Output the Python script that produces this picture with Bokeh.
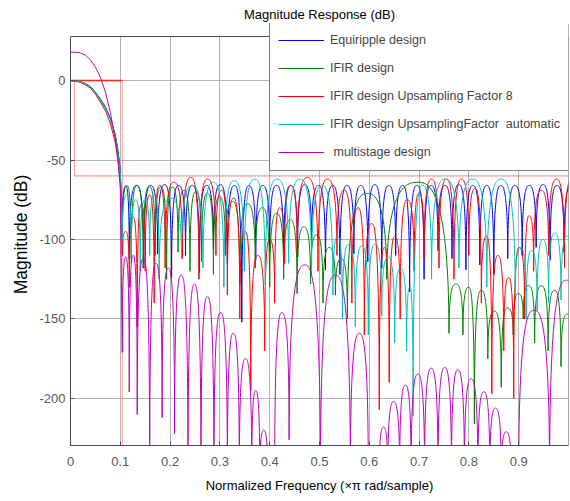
import numpy as np
from bokeh.plotting import figure
from bokeh.models import (Range1d, FixedTicker, Legend, LegendItem, ColumnDataSource,
                          BoxAnnotation, Span)
from bokeh.embed import file_html
from bokeh.resources import INLINE

FONT = "Liberation Sans"

# ---------------- data ----------------
x_ticks = [0, 0.1, 0.2, 0.3, 0.4, 0.5, 0.6, 0.7, 0.8, 0.9]
y_ticks = [-200, -150, -100, -50, 0]
y_tick_text = {-200: "-200", -150: "-150", -100: "-100", -50: "-50", 0: "0"}
x_lim = (0.0, 1.0)
y_lim = (-229.6, 27.7)      # axes box limits
y_view_top = 35.9           # the legend box rises above the axes box

labels = ["Equiripple design", "IFIR design", "IFIR design Upsampling Factor 8",
          "IFIR design UpsamplingFactor  automatic", " multistage design"]
colors = ["#0000ff", "#008000", "#ff0000", "#00bfbf", "#bf00bf"]

# passband (frequency x pi rad/sample, dB)
pass_f = [0, 0.01, 0.02, 0.03, 0.04, 0.05, 0.06, 0.07, 0.08, 0.09, 0.095, 0.1]
blue_pass_db = [0, -0.2, -0.8, -2.0, -4.0, -7.5, -12.0, -17.0, -24.0, -35.0, -44.0, -57.0]
green_pass_db = [0, -0.2, -0.7, -1.9, -3.8, -7.2, -11.6, -16.5, -23.5, -34.0, -43.0, -56.0]
red_pass_db = [0, -0.4, -1.2, -2.6, -4.8, -8.5, -13.5, -19.0, -27.0, -39.0, -50.0, -64.0]
cyan_pass_db = [0, -0.2, -0.8, -2.0, -4.1, -7.6, -12.2, -17.4, -24.5, -35.5, -45.0, -58.0]
mag_pass_db = [17.8, 17.8, 17.4, 16.0, 13.0, 8.5, 2.0, -7.0, -20.0, -37.0, -48.0, -68.0]

# stopband: null frequencies, null depths, lobe peaks between consecutive nulls
blue_null_f = [0.104, 0.118, 0.147, 0.175, 0.203, 0.231, 0.259, 0.287, 0.315, 0.344, 0.372, 0.400,
               0.428, 0.456, 0.484, 0.512, 0.541, 0.569, 0.597, 0.625, 0.653, 0.681, 0.710, 0.738,
               0.766, 0.794, 0.822, 0.850, 0.878, 0.907, 0.935, 0.963, 0.991, 1.019]
blue_null_db = [-95, -112, -118, -109, -124, -110, -121, -106, -115, -152, -113, -108,
                -116, -111, -104, -119, -122, -109, -114, -118, -110, -133, -125, -107,
                -112, -119, -116, -122, -112, -110, -105, -113, -108, -115]
blue_peak_db = [-66.5, -66, -66, -65.5, -66, -66, -66, -65.5, -66, -66, -66, -66,
                -66, -65.5, -66, -66, -66, -66, -65.5, -66, -66, -66, -66, -66,
                -65.5, -66, -66, -66, -66, -66, -65.5, -66, -66]

green_null_f = [0.104, 0.122, 0.146, 0.170, 0.193, 0.216, 0.240, 0.263, 0.287, 0.311, 0.340,
                0.371, 0.400, 0.428, 0.455, 0.482, 0.507, 0.532, 0.556, 0.635, 0.760, 0.788,
                0.811, 0.838, 0.865, 0.889, 0.909, 0.932, 0.959, 0.985, 1.010]
green_null_db = [-100, -112, -118, -110, -125, -108, -120, -114, -122, -110, -128,
                 -118, -130, -125, -134, -128, -140, -135, -150, -125, -159, -160,
                 -216, -175, -193, -160, -150, -165, -170, -180, -160]
green_peak_db = [-66, -66, -66.5, -67, -67, -69, -70, -71, -73, -76, -77.5, -80, -83.5, -87.5,
                 -92, -97, -105, -112, -71, -64, -128, -130, -132, -145, -143, -134, -129,
                 -129, -132, -147]

red_null_f = [0.104, 0.118, 0.134, 0.150, 0.168, 0.190, 0.225, 0.258, 0.292, 0.315, 0.340,
              0.362, 0.390, 0.410, 0.430, 0.455, 0.497, 0.535, 0.565, 0.590, 0.620, 0.640,
              0.662, 0.690, 0.710, 0.740, 0.770, 0.800, 0.825, 0.846, 0.870, 0.890, 0.912,
              0.930, 0.960, 0.992, 1.020]
red_null_db = [-110, -130, -155, -120, -140, -118, -112, -125, -110, -135, -150,
               -195, -170, -140, -115, -108, -120, -110, -140, -160, -207, -190,
               -150, -120, -112, -118, -125, -110, -140, -197, -170, -200, -150,
               -120, -110, -118, -112]
red_peak_db = [-95, -86, -78, -72, -66, -64, -61, -62, -69, -74, -95, -110, -100, -80, -66,
               -61, -62, -69, -80, -90, -105, -98, -75, -71, -62, -62, -62, -68, -98, -110,
               -124, -105, -85, -69, -62, -62]

cyan_null_f = [0.104, 0.122, 0.140, 0.159, 0.178, 0.223, 0.266, 0.308, 0.349, 0.391, 0.438,
               0.484, 0.527, 0.546, 0.572, 0.598, 0.625, 0.651, 0.675, 0.688, 0.725, 0.780,
               0.836, 0.893, 0.915, 0.937, 0.960, 0.985, 1.010]
cyan_null_db = [-100, -115, -120, -110, -125, -112, -118, -130, -120, -128, -115,
                -122, -135, -150, -155, -160, -148, -165, -170, -211, -125, -118,
                -130, -135, -150, -145, -140, -138, -130]
cyan_peak_db = [-72, -75, -75, -72, -74, -66, -64, -63, -62, -62, -62, -66, -98, -103, -104,
                -103, -111, -118, -130, -66, -62, -62, -62, -105, -107, -100, -96, -98]

mag_null_f = [0.104, 0.118, 0.134, 0.159, 0.184, 0.209, 0.236, 0.262, 0.288, 0.315, 0.339,
              0.364, 0.380, 0.396, 0.410, 0.439, 0.502, 0.562, 0.598, 0.620, 0.637, 0.661,
              0.684, 0.711, 0.738, 0.765, 0.791, 0.818, 0.842, 0.865, 0.885, 0.900, 0.962, 1.030]
mag_null_db = [-171, -196, -210, -250, -212, -222, -250, -250, -250, -250, -250,
               -250, -250, -250, -250, -226, -250, -250, -250, -250, -250, -250,
               -250, -250, -250, -250, -250, -250, -250, -250, -250, -250, -250, -250]
mag_peak_db = [-111, -110, -112, -115, -118, -122.5, -128, -136, -146, -159, -175, -195, -220,
               -240, -146, -116, -122.5, -159, -240, -218, -202, -191.6, -184.7, -181, -180.5,
               -182, -187.6, -195.8, -206, -221, -240, -144.5, -125.6]

# specification mask
mask_pass_f = [0, 0.104]
mask_pass_db = [0, 0]
mask_edge_f = [0.104, 0.104]
mask_edge_db = [0, -230]
mask_inner_f = [0.008, 0.008]
mask_inner_db = [0, -60]
mask_stop_f = [0.008, 1.0]
mask_stop_db = [-60, -60]

# ---------------- figure ----------------
p = figure(width=570, height=501, output_backend="svg", toolbar_location=None,
           x_range=Range1d(*x_lim), y_range=Range1d(y_lim[0], y_view_top),
           min_border_left=70, min_border_right=2, min_border_top=23, min_border_bottom=56,
           title="Magnitude Response (dB)")
p.background_fill_color = "white"
p.border_fill_color = "white"
p.outline_line_color = None

p.title.align = "center"
p.title.text_font = FONT
p.title.text_font_size = "13px"
p.title.text_font_style = "normal"
p.title.text_color = "black"
p.title.standoff = 3

AX = "#4d4d4d"
for ax in (p.xaxis[0], p.yaxis[0]):
    ax.axis_line_color = AX
    ax.major_tick_line_color = AX
    ax.major_tick_in = 4
    ax.major_tick_out = 0
    ax.minor_tick_line_color = None
    ax.major_label_text_font = FONT
    ax.major_label_text_font_size = "13px"
    ax.major_label_text_color = "#595959"
    ax.axis_label_text_font = FONT
    ax.axis_label_text_font_style = "normal"
    ax.axis_label_text_color = "black"

p.xaxis.ticker = FixedTicker(ticks=x_ticks)
p.yaxis.ticker = FixedTicker(ticks=y_ticks)
p.yaxis.major_label_overrides = y_tick_text
p.yaxis.bounds = y_lim
p.xaxis.axis_label = "Normalized Frequency (\u00d7\u03c0 rad/sample)"
p.yaxis.axis_label = "Magnitude (dB)"
p.xaxis.axis_label_text_font_size = "13px"
p.yaxis.axis_label_text_font_size = "17.5px"
p.xaxis.major_label_standoff = 11
p.yaxis.major_label_standoff = 5
p.xaxis.axis_label_standoff = 9
p.yaxis.axis_label_standoff = 5

p.xgrid.ticker = FixedTicker(ticks=x_ticks)
p.ygrid.ticker = FixedTicker(ticks=y_ticks)
p.grid.grid_line_color = "#b4b4b4"
p.grid.grid_line_width = 1

# right side of the axes box, blank strip above the box, then the box top
p.add_layout(Span(location=x_lim[1], dimension="height", line_color=AX, line_width=1))
p.add_layout(BoxAnnotation(bottom=y_lim[1], fill_color="white", fill_alpha=1,
                           line_color=None, level="annotation"))
p.add_layout(Span(location=y_lim[1], dimension="width", line_color=AX, line_width=1))

# mask
mask_col = "#ff2a1a"
p.line(mask_pass_f, mask_pass_db, line_color=mask_col, line_width=1.5)
p.line(mask_edge_f, mask_edge_db, line_color=mask_col, line_width=1, line_alpha=0.45)
p.line(mask_inner_f, mask_inner_db, line_color=mask_col, line_width=1, line_alpha=0.45)
p.line(mask_stop_f, mask_stop_db, line_color=mask_col, line_width=1, line_dash="2 1", line_alpha=0.9)


def lobe_segments(null_f, null_db, peak_db):
    nf = np.asarray(null_f, float)
    nd = np.asarray(null_db, float)
    pk = np.asarray(peak_db, float)
    a, b = nf[:-1], nf[1:]
    m = (a + b) / 2.0
    h = m - a
    left = dict(x0=a, y0=nd[:-1], x1=m, y1=pk, cx0=a, cy0=pk, cx1=m - 0.3 * h, cy1=pk)
    rgt = dict(x0=m, y0=pk, x1=b, y1=nd[1:], cx0=m + 0.3 * h, cy0=pk, cx1=b, cy1=pk)
    return {k: np.concatenate([left[k], rgt[k]]) for k in left}


series = [
    (blue_pass_db, blue_null_f, blue_null_db, blue_peak_db),
    (green_pass_db, green_null_f, green_null_db, green_peak_db),
    (red_pass_db, red_null_f, red_null_db, red_peak_db),
    (cyan_pass_db, cyan_null_f, cyan_null_db, cyan_peak_db),
    (mag_pass_db, mag_null_f, mag_null_db, mag_peak_db),
]

items = []
for (pdb, nf, nd, pk), col, lab in zip(series, colors, labels):
    r = p.line(list(pass_f) + [nf[0]], list(pdb) + [nd[0]], line_color=col, line_width=1)
    src = ColumnDataSource(lobe_segments(nf, nd, pk))
    p.bezier(x0="x0", y0="y0", x1="x1", y1="y1", cx0="cx0", cy0="cy0", cx1="cx1", cy1="cy1",
             source=src, line_color=col, line_width=1)
    items.append(LegendItem(label=lab, renderers=[r]))

legend = Legend(items=items, location=(199, 274), margin=0,
                border_line_color="black", border_line_width=1.2,
                background_fill_color="white", background_fill_alpha=1,
                label_text_font=FONT, label_text_font_size="12.5px",
                glyph_width=46, glyph_height=20, label_height=20,
                label_standoff=6, spacing=8, padding=8)
p.add_layout(legend)

open("out.html", "w").write(file_html(p, INLINE))
